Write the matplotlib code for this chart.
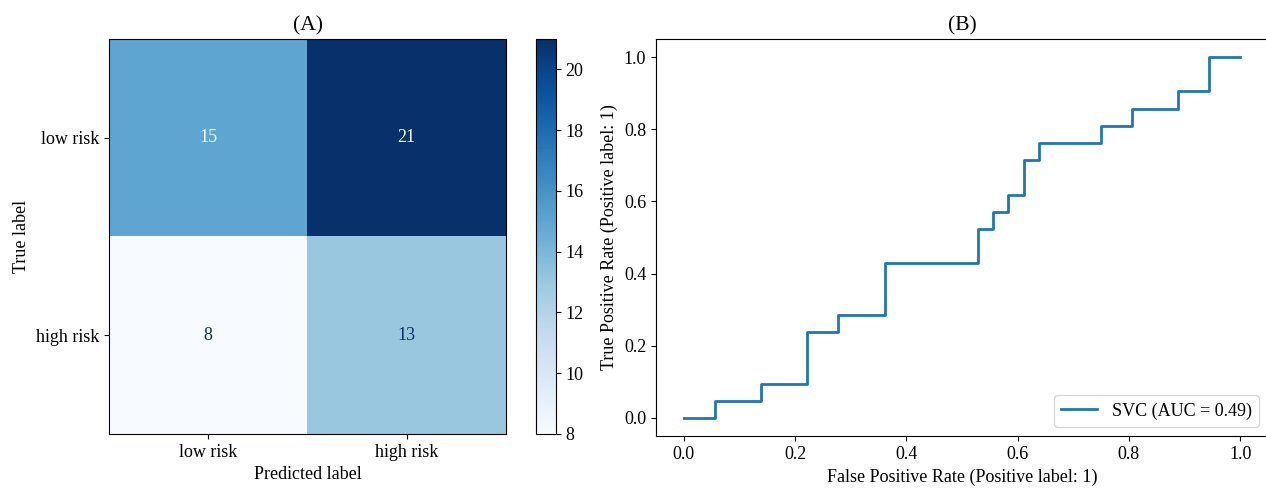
import matplotlib
matplotlib.use("Agg")
import matplotlib.pyplot as plt
import numpy as np

plt.rcParams['font.family'] = ['Liberation Serif', 'DejaVu Serif']
plt.rcParams['font.size'] = 13

# Confusion matrix data
class_labels = ["low risk", "high risk"]
cm = np.array([[15, 21],
               [8, 13]])

# ROC curve data (corner points)
fpr = [0.0, 0.056, 0.056, 0.139, 0.139, 0.222, 0.222, 0.278, 0.278, 0.361,
       0.361, 0.528, 0.528, 0.556, 0.556, 0.583, 0.583, 0.611, 0.611, 0.639,
       0.639, 0.750, 0.750, 0.806, 0.806, 0.889, 0.889, 0.944, 0.944, 1.0]
tpr = [0.0, 0.0, 0.048, 0.048, 0.095, 0.095, 0.238, 0.238, 0.286, 0.286,
       0.429, 0.429, 0.524, 0.524, 0.571, 0.571, 0.619, 0.619, 0.714, 0.714,
       0.762, 0.762, 0.810, 0.810, 0.857, 0.857, 0.905, 0.905, 1.0, 1.0]
roc_label = "SVC (AUC = 0.49)"

W, H = 1266, 488
fig = plt.figure(figsize=(W / 100, H / 100), dpi=100)

def box(x0, y0, x1, y1):
    return [x0 / W, 1 - y1 / H, (x1 - x0) / W, (y1 - y0) / H]

# (A) confusion matrix
ax1 = fig.add_axes(box(109, 39, 506, 434))
cmap = plt.get_cmap("Blues")
im = ax1.imshow(cm, cmap=cmap, vmin=cm.min(), vmax=cm.max(), aspect="auto")
thresh = (cm.max() + cm.min()) / 2.0
for i in range(cm.shape[0]):
    for j in range(cm.shape[1]):
        color = cmap(0.0) if cm[i, j] >= thresh else cmap(1.0)
        ax1.text(j, i, str(cm[i, j]), ha="center", va="center", color=color, fontsize=13)
ax1.set_xticks(range(len(class_labels)))
ax1.set_xticklabels(class_labels)
ax1.set_yticks(range(len(class_labels)))
ax1.set_yticklabels(class_labels)
ax1.set_xlabel("Predicted label")
ax1.set_ylabel("True label")
ax1.set_title("(A)", fontsize=15.5)

cax = fig.add_axes(box(536, 39, 556, 434))
cb = fig.colorbar(im, cax=cax)
cb.set_ticks([8, 10, 12, 14, 16, 18, 20])
cb.outline.set_linewidth(0.8)

# (B) ROC curve
ax2 = fig.add_axes(box(656, 39, 1268, 436))
ax2.plot(fpr, tpr, color="#1f77b4", lw=2, label=roc_label)
ax2.set_xlim(-0.05, 1.05)
ax2.set_ylim(-0.05, 1.05)
ax2.set_xticks([0.0, 0.2, 0.4, 0.6, 0.8, 1.0])
ax2.set_yticks([0.0, 0.2, 0.4, 0.6, 0.8, 1.0])
ax2.set_xlabel("False Positive Rate (Positive label: 1)")
ax2.set_ylabel("True Positive Rate (Positive label: 1)")
ax2.set_title("(B)", fontsize=15.5)
ax2.legend(loc="lower right", fontsize=13)

fig.savefig("out.png", dpi=100)
